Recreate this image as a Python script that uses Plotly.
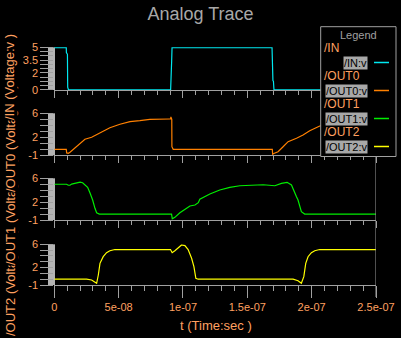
import plotly.graph_objects as go

# ---- signal data (time in seconds, value in volts) ----
t_in = [0, 9.3e-9, 9.4e-9, 1.02e-8, 1.04e-8, 1.1e-8, 9.04e-8, 9.07e-8, 9.12e-8, 9.15e-8,
        1.692e-7, 1.699e-7, 1.703e-7, 1.707e-7, 2.5e-7]
v_in = [5, 5, 4.4, 4.2, 0.3, 0, 0, 3.2, 3.4, 5,
        5, 1.1, 1.0, 0, 0]

t_out0 = [0, 9.3e-9, 9.6e-9, 1.09e-8, 1.22e-8, 1.48e-8, 1.74e-8, 2.0e-8, 2.38e-8, 2.9e-8,
          3.55e-8, 4.32e-8, 5.1e-8, 5.88e-8, 6.65e-8, 7.43e-8, 8.98e-8, 9.04e-8, 9.06e-8, 9.08e-8,
          9.13e-8, 9.14e-8, 9.2e-8, 9.24e-8, 1.694e-7, 1.697e-7, 1.706e-7, 1.739e-7, 1.778e-7, 1.817e-7,
          1.882e-7, 1.933e-7, 1.985e-7, 2.037e-7, 2.063e-7, 2.12e-7, 2.2e-7, 2.36e-7, 2.5e-7]
v_out0 = [0, 0, -0.6, -0.67, -0.5, 0, 0.43, 1.0, 1.67, 2.0,
          2.78, 3.6, 4.17, 4.6, 4.77, 5.0, 5.05, 5.05, 5.4, 5.05,
          5.0, 0.43, 0.1, 0, 0, -0.83, -0.7, -0.4, 0.43, 1.27,
          1.83, 2.38, 3.1, 3.6, 3.88, 4.17, 4.6, 5.0, 5.05]

t_out1 = [0, 9.47e-9, 1.09e-8, 1.22e-8, 1.35e-8, 1.74e-8, 2.0e-8, 2.2e-8, 2.38e-8, 2.59e-8,
          2.77e-8, 2.98e-8, 3.16e-8, 3.29e-8, 3.5e-8, 9.11e-8, 9.17e-8, 9.37e-8, 9.76e-8, 1.015e-7,
          1.054e-7, 1.093e-7, 1.119e-7, 1.131e-7, 1.209e-7, 1.286e-7, 1.364e-7, 1.442e-7, 1.623e-7, 1.714e-7,
          1.765e-7, 1.809e-7, 1.843e-7, 1.882e-7, 1.894e-7, 1.92e-7, 1.946e-7, 2.5e-7]
v_out1 = [5.0, 5.0, 4.83, 4.83, 5.03, 5.2, 5.37, 5.26, 4.92, 4.48,
          3.58, 2.36, 0.96, 0.22, 0.0, 0.0, -0.79, -0.55, 0.22, 0.8,
          1.35, 1.52, 1.9, 2.5, 3.36, 4.03, 4.48, 4.75, 4.92, 4.75,
          5.15, 5.32, 4.87, 2.91, 2.36, 0.39, 0.0, 0.0]

t_out2 = [0, 2.51e-8, 2.9e-8, 3.29e-8, 3.42e-8, 3.55e-8, 3.8e-8, 4.06e-8, 4.32e-8, 4.71e-8,
          9.03e-8, 9.16e-8, 9.37e-8, 9.89e-8, 1.015e-7, 1.04e-7, 1.067e-7, 1.085e-7, 1.1e-7, 1.118e-7,
          1.856e-7, 1.894e-7, 1.92e-7, 1.939e-7, 1.954e-7, 1.972e-7, 1.998e-7, 2.024e-7, 2.063e-7, 2.5e-7]
v_out2 = [0, 0, -0.14, -0.7, 0.72, 2.73, 3.87, 4.56, 4.9, 5.1,
          5.1, 4.56, 4.9, 5.88, 5.77, 5.1, 3.6, 2.15, 0.15, 0,
          0, -0.26, -0.7, 0.43, 2.73, 3.87, 4.56, 4.9, 5.1, 5.1]

# ---- names, colours, axis labelling ----
signal_names = ["/IN", "/OUT0", "/OUT1", "/OUT2"]
item_names = ["/IN:v", "/OUT0:v", "/OUT1:v", "/OUT2:v"]
axis_titles = ["/IN (Voltage:v )", "/OUT0 (Voltage:v )", "/OUT1 (Voltage:v )", "/OUT2 (Voltage:v )"]
trace_colors = ["#00e8f0", "#ff8000", "#00ee00", "#ffff00"]
x_title = "t (Time:sec )"

x_major = [0, 5e-8, 1e-7, 1.5e-7, 2e-7, 2.5e-7]
x_major_text = ["0", "5e-08", "1e-07", "1.5e-07", "2e-07", "2.5e-07"]
x_minor = [i * 1e-8 for i in range(26)]

y_ranges = [[0, 5], [-1, 6], [-1, 6], [-1, 6]]
y_ticks = [[i * 0.5 for i in range(11)], list(range(-1, 7)), list(range(-1, 7)), list(range(-1, 7))]
y_labels = [{0: "0", 2: "2", 3.5: "3.5", 5: "5"}, {-1: "-1", 2: "2", 6: "6"},
            {-1: "-1", 2: "2", 6: "6"}, {-1: "-1", 2: "2", 6: "6"}]

# ---- layout geometry (pixels) ----
W, H = 401, 338
GRAY = "#a0a0a0"
BAR = "#b4b4b4"
ORANGE = "#ffa060"
FONT = "Liberation Sans"


def px(x):
    return x / W


def py(y):
    return 1 - y / H


x_dom = [px(54.3), px(376)]
y_px = [(47.3, 90), (113.3, 155.3), (178.3, 220), (244.3, 285)]

series = [(t_in, v_in), (t_out0, v_out0), (t_out1, v_out1), (t_out2, v_out2)]

fig = go.Figure()
layout = dict(
    template="none",
    width=W, height=H, margin=dict(l=0, r=0, t=0, b=0, pad=0), autosize=False,
    paper_bgcolor="black", plot_bgcolor="black", showlegend=False,
    title=dict(text="Analog Trace", x=0.5, xanchor="center", y=py(14), yanchor="middle",
               font=dict(family=FONT, size=18, color="#a8a8a8")),
)

shapes = []
annotations = []

for i, (tt, vv) in enumerate(series):
    n = "" if i == 0 else str(i + 1)
    fig.add_trace(go.Scatter(x=tt, y=vv, mode="lines", xaxis="x" + n, yaxis="y" + n,
                             line=dict(color=trace_colors[i], width=1.2), hoverinfo="skip"))
    last = i == 3
    top, bot = y_px[i]
    r = y_ranges[i]
    pad = 0.03 if i == 0 else 0
    layout["xaxis" + n] = dict(
        domain=x_dom, range=[0, 2.5e-7], anchor="y" + n, automargin=False,
        showline=True, linecolor=GRAY, linewidth=1, showgrid=False, zeroline=False,
        ticks="outside", ticklen=12 if last else 7, tickcolor=GRAY, tickwidth=1,
        tickmode="array", tickvals=x_major, ticktext=x_major_text,
        showticklabels=last, tickfont=dict(family=FONT, size=11, color=ORANGE),
        minor=dict(ticks="outside", ticklen=5 if last else 4, tickcolor=GRAY, tickwidth=1,
                   tickmode="array", tickvals=x_minor),
        layer="below traces",
    )
    labels = y_labels[i]
    layout["yaxis" + n] = dict(
        domain=[py(bot), py(top)], range=[r[0] - pad, r[1] + pad], anchor="x" + n, automargin=False,
        showline=False, showgrid=False, zeroline=False,
        ticks="outside", ticklen=13, tickcolor=GRAY, tickwidth=1,
        tickmode="array", tickvals=y_ticks[i],
        ticktext=[labels.get(v, "") for v in y_ticks[i]],
        tickfont=dict(family=FONT, size=11, color=ORANGE),
    )
    # grey value bar beside each y axis
    shapes.append(dict(type="rect", xref="paper", yref="paper", x0=px(48), x1=px(55),
                       y0=py(bot), y1=py(top), fillcolor=BAR, line=dict(width=0), layer="below"))

# vertical line closing the plot area on the right
shapes.append(dict(type="line", xref="x", yref="paper", x0=2.5e-7, x1=2.5e-7,
                   y0=py(297), y1=py(47.3), line=dict(color=GRAY, width=1), layer="above"))

# time axis title
annotations.append(dict(text=x_title, xref="paper", yref="paper", x=px(215.5), y=py(325),
                        xanchor="center", yanchor="middle", showarrow=False,
                        font=dict(family=FONT, size=13, color=ORANGE)))

# stacked y-axis titles, lower ones partly covered by the ones above
title_start = [121, 193, 266, 337]
for i in [3, 2, 1, 0]:
    annotations.append(dict(text=axis_titles[i], xref="paper", yref="paper", x=px(10), y=py(title_start[i]),
                            xanchor="center", yanchor="bottom", textangle=-90, showarrow=False,
                            bgcolor="black", borderpad=0,
                            font=dict(family=FONT, size=13, color=ORANGE)))

# legend panel
shapes.append(dict(type="rect", xref="paper", yref="paper", x0=px(320.7), x1=px(396), y0=py(156.5), y1=py(26.7),
                   fillcolor="black", line=dict(color=GRAY, width=1), layer="above"))
annotations.append(dict(text="Legend", xref="paper", yref="paper", x=px(358), y=py(34.5), xanchor="center",
                        yanchor="middle", showarrow=False, font=dict(family=FONT, size=11, color=GRAY)))
for i in range(4):
    gy = 48.3 + 27.9 * i
    iy = 62.5 + 28 * i
    annotations.append(dict(text=signal_names[i], xref="paper", yref="paper", x=px(322), y=py(gy),
                            xanchor="left", yanchor="middle", showarrow=False,
                            font=dict(family=FONT, size=12, color=ORANGE)))
    annotations.append(dict(text=item_names[i], xref="paper", yref="paper", x=px(368), y=py(iy),
                            xanchor="right", yanchor="middle", showarrow=False, bgcolor="#a8a8a8",
                            borderpad=0, font=dict(family=FONT, size=11, color="black")))
    shapes.append(dict(type="line", xref="paper", yref="paper", x0=px(374), x1=px(389), y0=py(iy), y1=py(iy),
                       line=dict(color=trace_colors[i], width=1.5), layer="above"))

layout["shapes"] = shapes
layout["annotations"] = annotations
fig.update_layout(**layout)
fig.write_html("out.html")
